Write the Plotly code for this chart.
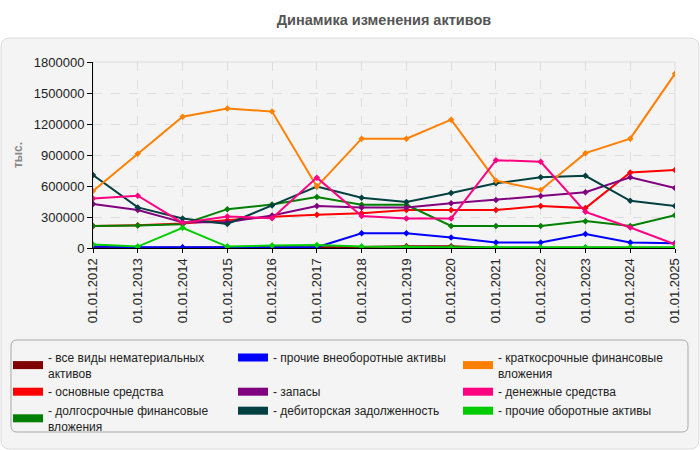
import plotly.graph_objects as go

# chart values
dates = [f"01.01.{y}" for y in range(2012, 2026)]

intangible = [2000, 2000, 2000, 8000, 8000, 8000, 10000, 18000, 18000, 3000, 2000, 2000, 2000, 2000]
fixed_assets = [214000, 221000, 237000, 268000, 302000, 322000, 337000, 367000, 367000, 367000, 406000, 386000, 730000, 756000]
lt_investments = [214000, 218000, 230000, 376000, 420000, 493000, 418000, 418000, 214000, 214000, 214000, 260000, 214000, 318000]
other_noncurrent = [15000, 7000, 7000, 7000, 7000, 7000, 143000, 143000, 101000, 53000, 53000, 136000, 53000, 46000]
inventory = [425000, 367000, 248000, 250000, 315000, 406000, 393000, 393000, 432000, 464000, 503000, 539000, 685000, 581000]
receivables = [707000, 393000, 286000, 232000, 412000, 594000, 487000, 445000, 532000, 626000, 685000, 698000, 457000, 406000]
st_investments = [552000, 912000, 1270000, 1350000, 1320000, 594000, 1058000, 1058000, 1242000, 652000, 561000, 918000, 1058000, 1687000]
cash = [480000, 506000, 243000, 305000, 288000, 681000, 310000, 286000, 286000, 850000, 834000, 350000, 198000, 36000]
other_current = [33000, 14000, 195000, 14000, 23000, 29000, 14000, 7000, 7000, 7000, 7000, 7000, 7000, 7000]

y_ticks = [0, 300000, 600000, 900000, 1200000, 1500000, 1800000]

# (legend label, values, colour) in the order the lines are drawn
series = [
    ("- все виды нематериальных<br>активов", intangible, "#800000"),
    ("- основные средства", fixed_assets, "#ff0000"),
    ("- долгосрочные финансовые<br>вложения", lt_investments, "#008000"),
    ("- прочие внеоборотные активы", other_noncurrent, "#0000ff"),
    ("- запасы", inventory, "#800080"),
    ("- дебиторская задолженность", receivables, "#004040"),
    ("- краткосрочные финансовые<br>вложения", st_investments, "#ff8000"),
    ("- денежные средства", cash, "#ff0080"),
    ("- прочие оборотные активы", other_current, "#00cc00"),
]

# legend is filled row by row, reference reads column by column
legend_order = [0, 3, 6, 1, 4, 7, 2, 5, 8]

fig = go.Figure()
for name, vals, color in series:
    fig.add_trace(go.Scatter(
        x=dates, y=vals, mode="lines+markers", showlegend=False,
        line=dict(color=color, width=2),
        marker=dict(symbol="diamond", size=5, color=color),
        hoverinfo="x+y", name=name.replace("<br>", " "),
    ))

# swatch-only traces for the legend
for i in legend_order:
    name, vals, color = series[i]
    fig.add_trace(go.Scatter(
        x=[None], y=[None], mode="lines", name=name,
        line=dict(color=color, width=8),
    ))

# pixel layout helpers (plot area 93..675 x 62..248)
L, R, T, B = 93, 675, 62, 248
W, H = R - L, B - T


def px(x):
    return (x - L) / W


def py(y):
    return (B - y) / H


def rounded(x0, y0, x1, y1, r=7):
    rx, ry = r / W, r / H
    a, b, c, d = px(x0), py(y1), px(x1), py(y0)
    return (f"M{a + rx},{b} L{c - rx},{b} Q{c},{b} {c},{b + ry} "
            f"L{c},{d - ry} Q{c},{d} {c - rx},{d} L{a + rx},{d} "
            f"Q{a},{d} {a},{d - ry} L{a},{b + ry} Q{a},{b} {a + rx},{b} Z")


fig.update_layout(
    width=700, height=450,
    margin=dict(l=L, r=700 - R, t=T, b=450 - B, autoexpand=False),
    paper_bgcolor="white",
    plot_bgcolor="#fbfbf6",
    font=dict(family="Liberation Sans, Arial, sans-serif", size=12, color="#222"),
    title=dict(text="<b>Динамика изменения активов</b>", x=0.5, xref="paper",
               y=1 - 20 / 450, yref="container", xanchor="center", yanchor="middle",
               font=dict(size=14.5, color="#555")),
    shapes=[
        dict(type="path", xref="paper", yref="paper", layer="below",
             path=rounded(1, 38, 699, 449, 9),
             fillcolor="#f4f4f4", line=dict(color="#dcdcdc", width=1)),
        dict(type="path", xref="paper", yref="paper", layer="below",
             path=rounded(11, 340, 688, 432, 6),
             fillcolor="#f4f4f4", line=dict(color="#a8a8a8", width=1)),
        dict(type="rect", xref="paper", yref="paper", layer="below",
             x0=0, y0=0, x1=1, y1=1, line=dict(color="#dddddd", width=1)),
    ],
    legend=dict(
        orientation="h", x=px(8), y=py(343), xanchor="left", yanchor="top",
        bgcolor="rgba(0,0,0,0)", entrywidth=180, entrywidthmode="pixels",
        font=dict(size=12, color="#222"), tracegroupgap=0, itemwidth=30,
    ),
    hovermode="closest",
)

fig.update_xaxes(
    type="category", range=[0, len(dates) - 1], tickangle=-90,
    showline=True, linecolor="black", linewidth=1,
    ticks="outside", ticklen=4, tickcolor="black",
    showgrid=True, gridcolor="#dddddd", griddash="dash", gridwidth=1,
    tickfont=dict(size=13, color="#222"), zeroline=False,
)
fig.update_yaxes(
    range=[0, 1800000], tickvals=y_ticks, ticktext=[str(v) for v in y_ticks],
    showline=True, linecolor="black", linewidth=1,
    ticks="outside", ticklen=5, tickcolor="black",
    showgrid=True, gridcolor="#dddddd", griddash="dash", gridwidth=1,
    tickfont=dict(size=13, color="#222"), zeroline=False,
    title=dict(text="<b>тыс.</b>", font=dict(size=12, color="#888"), standoff=8),
)

# drop the default page margin so the figure sits at the window corner
fig.write_html("out.html", config={"displayModeBar": False},
               post_script="document.body.style.margin='0';")
